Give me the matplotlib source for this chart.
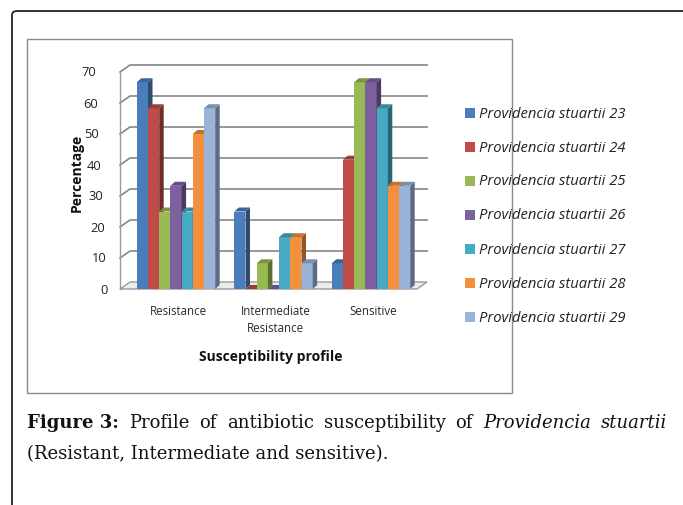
import matplotlib.pyplot as plt
from matplotlib.patches import Rectangle, Polygon, FancyBboxPatch
import matplotlib.colors as mcolors

W, H = 683, 506

categories = ['Resistance', 'Intermediate\nResistance', 'Sensitive']
series = ['Providencia stuartii 23', 'Providencia stuartii 24', 'Providencia stuartii 25',
          'Providencia stuartii 26', 'Providencia stuartii 27', 'Providencia stuartii 28',
          'Providencia stuartii 29']
values = [
    [66.7, 25.0, 8.3],
    [58.3, 0.0, 41.7],
    [25.0, 8.3, 66.7],
    [33.3, 0.0, 66.7],
    [25.0, 16.7, 58.3],
    [50.0, 16.7, 33.3],
    [58.3, 8.3, 33.3],
]
colors = ['#4a7ebb', '#be4b48', '#98b954', '#7d60a0', '#46aac5', '#f38f3d', '#99b3d9']
yticks = [0, 10, 20, 30, 40, 50, 60, 70]


def fx(px):
    return px / W


def fy(py):
    return 1 - py / H


fig = plt.figure(figsize=(W / 100, H / 100), dpi=100)
plt.rcParams['font.family'] = ['Open Sans', 'DejaVu Sans']

# outer frame (rounded corner top-left, runs off the page)
fig.add_artist(FancyBboxPatch((fx(12), fy(530)), fx(700), (530 - 12) / H,
                              boxstyle='round,pad=0,rounding_size=0.008',
                              transform=fig.transFigure, fill=False,
                              ec='#222222', lw=1.3, zorder=-2))
# chart box
fig.add_artist(Rectangle((fx(27), fy(394)), fx(512 - 27), (394 - 40) / H,
                         transform=fig.transFigure, fill=True, fc='white',
                         ec='#8a8a8a', lw=1.0, zorder=-1))

# plot area (front plane)
x0px, x1px, y0px, y1px = 120, 417, 290, 73
ax = fig.add_axes([fx(x0px), fy(y0px), (x1px - x0px) / W, (y0px - y1px) / H])
ppx = 97.5
ppy = (y0px - y1px) / 70.0
c0 = 176
xmin = (x0px - c0) / ppx
xmax = (x1px - c0) / ppx
ax.set_xlim(xmin, xmax)
ax.set_ylim(0, 70)
ax.axis('off')

# back wall offset
wdx, wdy = 10 / ppx, 7 / ppy
grid_c = '#868686'
for t in yticks:
    if t == 0:
        continue
    ax.plot([xmin, xmin + wdx, xmax + wdx], [t, t + wdy, t + wdy],
            color=grid_c, lw=1.2, clip_on=False, zorder=1)
# floor
ax.add_patch(Polygon([(xmin, 0), (xmax, 0), (xmax + wdx, wdy), (xmin + wdx, wdy)],
                     closed=True, fc='#ececec', ec='#9a9a9a', lw=1.0,
                     clip_on=False, zorder=1))
ax.plot([xmin, xmin], [0, 70], color='#9a9a9a', lw=1.0, clip_on=False, zorder=1)

# y tick labels (slight perspective slant)
for t in yticks:
    ax.text(xmin - (12 + 12 * t / 70) / ppx, t, str(t), ha='right', va='center',
            fontsize=9.3, color='#222222', clip_on=False)

# 3D-looking bars
w = 11.2 / ppx
bdx, bdy = 4.5 / ppx, 4 / ppy


def shade(c, f):
    r, g, b = mcolors.to_rgb(c)
    return (r * f, g * f, b * f)


for j in range(len(categories)):
    for i, s in enumerate(series):
        v = values[i][j]
        xl = j - 3.5 * w + i * w
        ax.add_patch(Rectangle((xl, 0), w, v, fc=colors[i], ec='none', zorder=3,
                               clip_on=False))
        ax.add_patch(Polygon([(xl + w, 0), (xl + w + bdx, bdy), (xl + w + bdx, v + bdy),
                              (xl + w, v)], closed=True, fc=shade(colors[i], 0.6),
                             ec='none', zorder=3, clip_on=False))
        ax.add_patch(Polygon([(xl, v), (xl + w, v), (xl + w + bdx, v + bdy),
                              (xl + bdx, v + bdy)], closed=True,
                             fc=shade(colors[i], 0.8), ec='none', zorder=3,
                             clip_on=False))

# category labels
for j, c in enumerate(categories):
    ax.text(j + 2 / ppx, -15 / ppy, c, ha='center', va='top', fontsize=8.3,
            color='#2a2a2a', linespacing=1.45, clip_on=False)

fig.text(fx(271), fy(357), 'Susceptibility profile', ha='center', va='center',
         fontsize=10, fontweight='bold', color='#111111')
fig.text(fx(77), fy(173), 'Percentage', ha='center', va='center', rotation=90,
         fontsize=10, fontweight='bold', color='#111111')

# legend
for i, s in enumerate(series):
    yc = 114 + i * 34
    fig.add_artist(Rectangle((fx(465), fy(yc + 5)), 10 / W, 10 / H,
                             transform=fig.transFigure, fc=colors[i], ec='none'))
    fig.text(fx(479), fy(yc), s, ha='left', va='center', fontsize=10.6,
             style='italic', color='#222222')

# caption
serif = ['DejaVu Serif']
line1 = [('Figure 3:', 'bold', 'normal'), ('Profile', 'normal', 'normal'),
         ('of', 'normal', 'normal'), ('antibiotic', 'normal', 'normal'),
         ('susceptibility', 'normal', 'normal'), ('of', 'normal', 'normal'),
         ('Providencia', 'normal', 'italic'), ('stuartii', 'normal', 'italic')]
fs = 13
fig.canvas.draw()
r = fig.canvas.get_renderer()
texts = []
total = 0
for word, wt, st in line1:
    t = fig.text(0, 0, word, fontsize=fs, fontweight=wt, style=st, family=serif,
                 ha='left', va='baseline', color='#111111')
    wpx = t.get_window_extent(r).width
    texts.append((t, wpx))
    total += wpx
gap = (667 - 27 - total) / (len(line1) - 1)
xcur = 27
for t, wpx in texts:
    t.set_position((fx(xcur), fy(428)))
    xcur += wpx + gap
fig.text(fx(27), fy(459), '(Resistant, Intermediate and sensitive).', fontsize=fs,
         family=serif, ha='left', va='baseline', color='#111111')

fig.savefig('out.png', dpi=100)
